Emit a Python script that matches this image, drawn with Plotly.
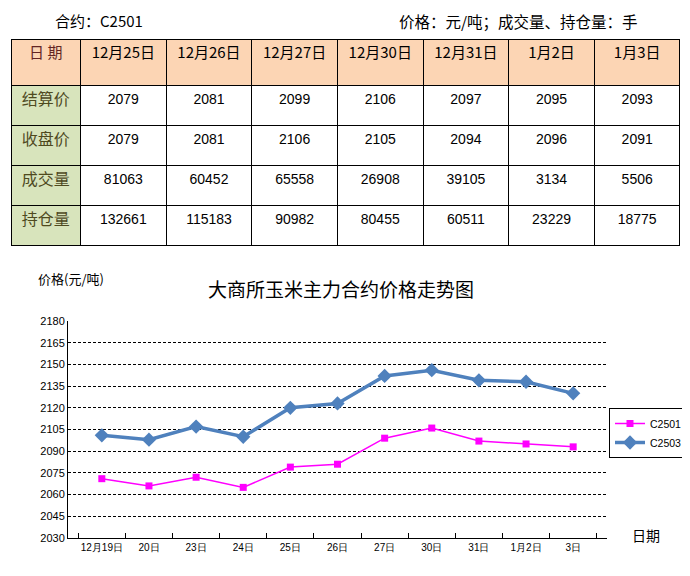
import plotly.graph_objects as go

# table data
row_names = ['结算价', '收盘价', '成交量', '持仓量']
table_dates = ['12月25日', '12月26日', '12月27日', '12月30日', '12月31日', '1月2日', '1月3日']
settle = [2079, 2081, 2099, 2106, 2097, 2095, 2093]
close = [2079, 2081, 2106, 2105, 2094, 2096, 2091]
volume = [81063, 60452, 65558, 26908, 39105, 3134, 5506]
open_interest = [132661, 115183, 90982, 80455, 60511, 23229, 18775]

# chart data
chart_dates = ['12月19日', '20日', '23日', '24日', '25日', '26日', '27日', '30日', '31日', '1月2日', '3日']
c2501 = [2071, 2066, 2072, 2065, 2079, 2081, 2099, 2106, 2097, 2095, 2093]
c2503 = [2101, 2098, 2107, 2100, 2120, 2123, 2142, 2146, 2139, 2138, 2130]

cjk = 'Noto Sans CJK SC'
num_font = 'Liberation Sans'

# the page body adds an 8px margin, so the figure is sized and placed for that
PAD = 8
W, H = 690 - 2 * PAD, 576 - 2 * PAD


def px(x):
    return (x - PAD) / W


def py(y):
    return 1 - (y - PAD) / H


rows = [settle, close, volume, open_interest]
columns = [row_names] + [[str(r[i]) for r in rows] for i in range(len(table_dates))]
fills = [['#d8e4bc'] * 4] + [['white'] * 4] * len(table_dates)
font_colors = [['#4f4a1f'] * 4] + [['black'] * 4] * len(table_dates)

table = go.Table(
    domain=dict(x=[px(11), px(680)], y=[py(300), py(39)]),
    columnwidth=[69] + [85] * 7,
    header=dict(values=['日 期'] + table_dates,
                fill_color='#fcd5b4',
                line=dict(color='black', width=1),
                font=dict(family=cjk, size=15, color=['#632523'] + ['black'] * 7),
                align='center', height=46),
    cells=dict(values=columns,
               fill_color=fills,
               line=dict(color='black', width=1),
               font=dict(family=[cjk] + [num_font] * 7, size=[16] + [14] * 7,
                         color=font_colors),
               align='center', height=40),
)

fig = go.Figure(table)

fig.add_trace(go.Scatter(x=chart_dates, y=c2501, name='C2501', mode='lines+markers',
                         line=dict(color='#ff00ff', width=1.5),
                         marker=dict(symbol='square', size=7, color='#ff00ff'),
                         xaxis='x', yaxis='y'))
fig.add_trace(go.Scatter(x=chart_dates, y=c2503, name='C2503', mode='lines+markers',
                         line=dict(color='#4f81bd', width=3.5),
                         marker=dict(symbol='diamond', size=11, color='#4f81bd'),
                         xaxis='x', yaxis='y'))

fig.update_layout(
    width=W, height=H,
    margin=dict(l=0, r=0, t=0, b=0, autoexpand=False),
    paper_bgcolor='white', plot_bgcolor='white',
    font=dict(family=cjk, color='black'),
    xaxis=dict(domain=[px(68), px(607)], anchor='y', type='category', automargin=False,
               showline=True, linecolor='black', linewidth=1,
               ticks='inside', tickson='boundaries', ticklen=5, tickcolor='black',
               tickangle=0, showgrid=False,
               tickfont=dict(size=10, family=num_font)),
    yaxis=dict(domain=[py(538), py(321)], anchor='x', range=[2030, 2180],
               tick0=2030, dtick=15, automargin=False,
               showline=True, linecolor='black', linewidth=1,
               showgrid=True, gridcolor='black', griddash='3px,2px', gridwidth=1,
               zeroline=False, tickfont=dict(size=11, family=num_font)),
    showlegend=True,
    legend=dict(x=px(609), y=py(408), xanchor='left', yanchor='top',
                bordercolor='black', borderwidth=1, bgcolor='white', itemwidth=30,
                tracegroupgap=0,
                font=dict(size=10.5, family=num_font)),
    annotations=[
        dict(text='合约：C2501', x=px(53), y=py(8), xref='paper', yref='paper',
             xanchor='left', yanchor='top', showarrow=False, font=dict(size=15)),
        dict(text='价格：元/吨；成交量、持仓量：手', x=px(640), y=py(8), xref='paper', yref='paper',
             xanchor='right', yanchor='top', showarrow=False, font=dict(size=15.5)),
        dict(text='大商所玉米主力合约价格走势图', x=px(341), y=py(288), xref='paper', yref='paper',
             xanchor='center', yanchor='middle', showarrow=False, font=dict(size=19)),
        dict(text='价格(元/吨)', x=px(36), y=py(278), xref='paper', yref='paper',
             xanchor='left', yanchor='middle', showarrow=False, font=dict(size=13)),
        dict(text='日期', x=px(630), y=py(535), xref='paper', yref='paper',
             xanchor='left', yanchor='middle', showarrow=False, font=dict(size=14)),
    ],
)

fig.write_html('out.html')
